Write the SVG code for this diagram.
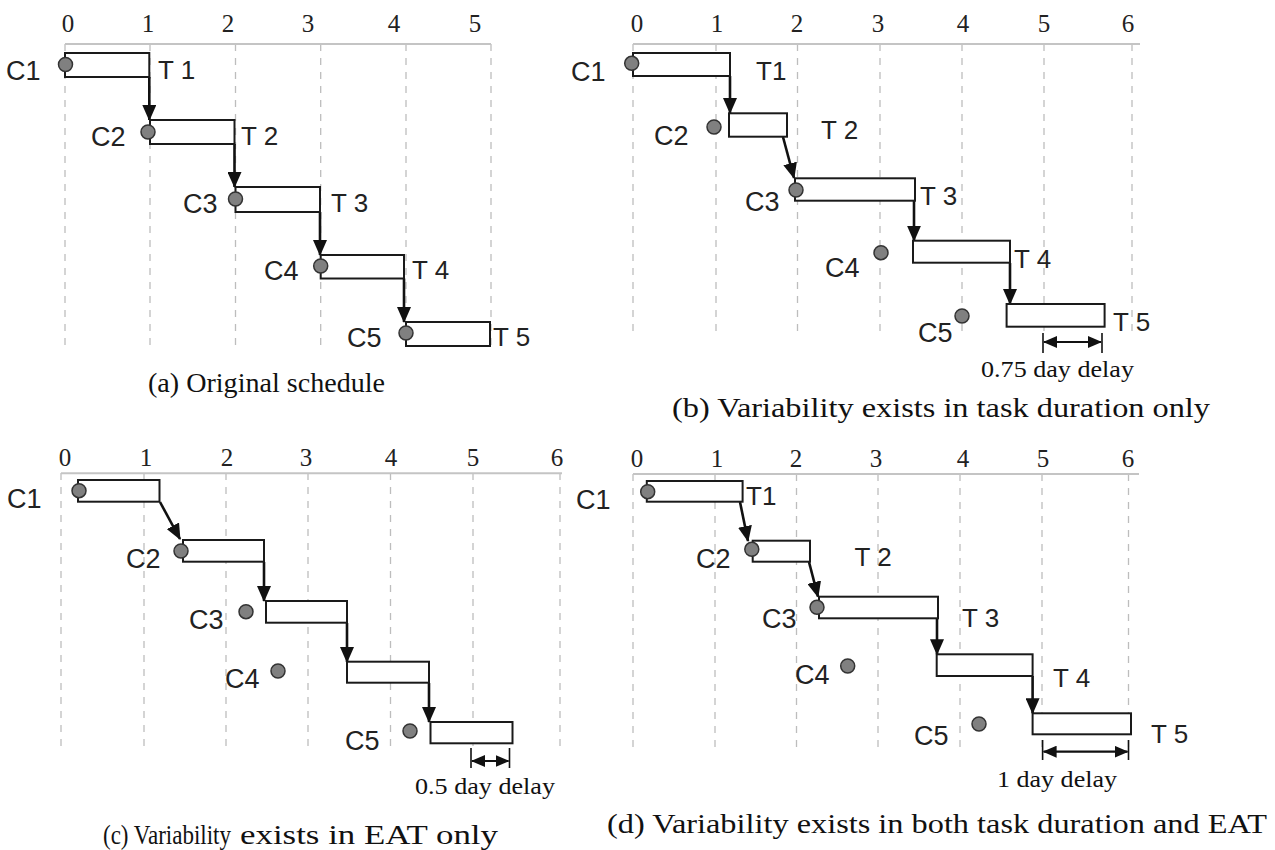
<svg xmlns="http://www.w3.org/2000/svg" width="1275" height="850" viewBox="0 0 1275 850">
<style>
.bg{fill:#fff}
.ax{stroke:#c4c4c4;stroke-width:2;fill:none}
.gr{stroke:#bdbdbd;stroke-width:1.3;stroke-dasharray:7,7;fill:none}
.num{font-family:"Liberation Serif",serif;font-size:25px;fill:#222;text-anchor:middle}
.bar{fill:#fff;stroke:#1a1a1a;stroke-width:2}
.pt{fill:#808080;stroke:#333;stroke-width:1.5}
.lb{font-family:"Liberation Sans",sans-serif;font-size:27px;fill:#222}
.tl{font-family:"Liberation Sans",sans-serif;font-size:26px;fill:#222}
.cap{font-family:"Liberation Serif",serif;font-size:27px;fill:#111}
.dl{font-family:"Liberation Serif",serif;font-size:24px;fill:#111}
.ar{stroke:#111;stroke-width:2.6;fill:none;marker-end:url(#ah)}
.dm{stroke:#111;stroke-width:2.2;fill:none;marker-start:url(#dh);marker-end:url(#dh)}
.tk{stroke:#111;stroke-width:1.6}
</style>
<defs>
<marker id="ah" viewBox="0 0 16 14" refX="15" refY="7" markerWidth="16" markerHeight="14" orient="auto" markerUnits="userSpaceOnUse"><path d="M0,0 L16,7 L0,14 z" fill="#111"/></marker>
<marker id="dh" viewBox="0 0 14 12" refX="13" refY="6" markerWidth="14" markerHeight="12" orient="auto-start-reverse" markerUnits="userSpaceOnUse"><path d="M0,0 L14,6 L0,12 z" fill="#111"/></marker>
</defs>
<rect class="bg" width="1275" height="850"/>

<!-- ===== Panel (a) ===== -->
<g id="axis-a">
<text class="num" x="68" y="32">0</text><text class="num" x="148" y="32">1</text><text class="num" x="228" y="32">2</text><text class="num" x="308" y="32">3</text><text class="num" x="394" y="32">4</text><text class="num" x="475" y="32">5</text>
<path class="gr" d="M65,44V347M150,44V347M235.5,44V347M320.7,44V347M406,44V347M491,44V347"/>
<line class="ax" x1="65" y1="44" x2="491" y2="44"/>
</g>
<g id="a-connectors">
<line class="ar" x1="149.3" y1="77" x2="149.3" y2="120"/>
<line class="ar" x1="234.5" y1="144" x2="234.5" y2="187"/>
<line class="ar" x1="320" y1="212" x2="320" y2="255"/>
<line class="ar" x1="404" y1="278.5" x2="404" y2="322"/>
</g>
<g id="a-T1"><rect class="bar" x="65" y="53" width="84.3" height="24"/><circle class="pt" cx="65.5" cy="64.5" r="7"/><text class="lb" x="6" y="80">C1</text><text class="tl" x="158" y="79">T 1</text></g>
<g id="a-T2"><rect class="bar" x="150" y="120" width="84.5" height="24"/><circle class="pt" cx="148" cy="132" r="7"/><text class="lb" x="91" y="146">C2</text><text class="tl" x="241" y="145">T 2</text></g>
<g id="a-T3"><rect class="bar" x="235.5" y="187" width="84.5" height="25"/><circle class="pt" cx="235.5" cy="199" r="7"/><text class="lb" x="183" y="213">C3</text><text class="tl" x="331" y="212">T 3</text></g>
<g id="a-T4"><rect class="bar" x="320.7" y="255" width="83.3" height="23.5"/><circle class="pt" cx="320.7" cy="266" r="7"/><text class="lb" x="264" y="280">C4</text><text class="tl" x="412" y="279">T 4</text></g>
<g id="a-T5"><rect class="bar" x="406" y="322" width="84" height="24"/><circle class="pt" cx="406" cy="333" r="7"/><text class="lb" x="347" y="347">C5</text><text class="tl" x="493" y="346">T 5</text></g>
<text class="cap" x="148" y="392" font-size="28" textLength="237" lengthAdjust="spacingAndGlyphs">(a) Original schedule</text>

<!-- ===== Panel (b) ===== -->
<g id="axis-b">
<text class="num" x="637" y="32">0</text><text class="num" x="717" y="32">1</text><text class="num" x="797" y="32">2</text><text class="num" x="878" y="32">3</text><text class="num" x="963" y="32">4</text><text class="num" x="1044" y="32">5</text><text class="num" x="1128" y="32">6</text>
<path class="gr" d="M633,44V337M716,44V337M797.5,44V337M880,44V337M962,44V337M1044,44V337M1132,44V337"/>
<line class="ax" x1="633" y1="44" x2="1140" y2="44"/>
</g>
<g id="b-connectors">
<line class="ar" x1="730" y1="76" x2="730" y2="113"/>
<line class="ar" x1="783" y1="137" x2="794" y2="178"/>
<line class="ar" x1="914" y1="201" x2="914" y2="240.7"/>
<line class="ar" x1="1010" y1="263" x2="1010" y2="304"/>
</g>
<g id="b-T1"><rect class="bar" x="633" y="53" width="97" height="23"/><circle class="pt" cx="631.7" cy="63.3" r="7"/><text class="lb" x="571" y="81">C1</text><text class="tl" x="756" y="80">T1</text></g>
<g id="b-T2"><rect class="bar" x="729" y="113.3" width="58" height="23.4"/><circle class="pt" cx="714" cy="127" r="7"/><text class="lb" x="654" y="145">C2</text><text class="tl" x="821" y="139">T 2</text></g>
<g id="b-T3"><rect class="bar" x="795" y="178.3" width="120" height="22.4"/><circle class="pt" cx="796" cy="190" r="7"/><text class="lb" x="745" y="211">C3</text><text class="tl" x="920" y="205">T 3</text></g>
<g id="b-T4"><rect class="bar" x="913" y="240.7" width="97" height="22"/><circle class="pt" cx="881" cy="252.7" r="7"/><text class="lb" x="825" y="277">C4</text><text class="tl" x="1014" y="268">T 4</text></g>
<g id="b-T5"><rect class="bar" x="1006.6" y="304" width="98" height="22.7"/><circle class="pt" cx="962" cy="316" r="7"/><text class="lb" x="918" y="342">C5</text><text class="tl" x="1113" y="331">T 5</text></g>
<g id="b-delay">
<line class="tk" x1="1043" y1="333" x2="1043" y2="353"/><line class="tk" x1="1102" y1="333" x2="1102" y2="353"/>
<line class="dm" x1="1044" y1="342" x2="1101" y2="342"/>
<text class="dl" x="981" y="377" textLength="153" lengthAdjust="spacingAndGlyphs">0.75 day delay</text>
</g>
<text class="cap" x="672" y="417" textLength="538" lengthAdjust="spacingAndGlyphs">(b) Variability exists in task duration only</text>

<!-- ===== Panel (c) ===== -->
<g id="axis-c">
<text class="num" x="65" y="466">0</text><text class="num" x="146" y="466">1</text><text class="num" x="227" y="466">2</text><text class="num" x="306" y="466">3</text><text class="num" x="391" y="466">4</text><text class="num" x="473" y="466">5</text><text class="num" x="557" y="466">6</text>
<path class="gr" d="M61,473V750M144,473V750M226,473V750M308,473V750M390.5,473V750M473,473V750M560,473V750"/>
<line class="ax" x1="61" y1="473.3" x2="562" y2="473.3"/>
</g>
<g id="c-connectors">
<line class="ar" x1="160" y1="502" x2="180" y2="539"/>
<line class="ar" x1="264" y1="562" x2="264" y2="601"/>
<line class="ar" x1="347" y1="623" x2="347" y2="662"/>
<line class="ar" x1="429" y1="683" x2="429" y2="722"/>
</g>
<g id="c-T1"><rect class="bar" x="78" y="480" width="81.5" height="21.7"/><circle class="pt" cx="79" cy="490.7" r="7"/><text class="lb" x="7" y="508">C1</text></g>
<g id="c-T2"><rect class="bar" x="183" y="540" width="81" height="21.7"/><circle class="pt" cx="181" cy="551" r="7"/><text class="lb" x="126" y="568">C2</text></g>
<g id="c-T3"><rect class="bar" x="266" y="601" width="81" height="21.7"/><circle class="pt" cx="246" cy="611.7" r="7"/><text class="lb" x="189" y="629">C3</text></g>
<g id="c-T4"><rect class="bar" x="347" y="661.7" width="82" height="21"/><circle class="pt" cx="278" cy="671" r="7"/><text class="lb" x="225" y="688">C4</text></g>
<g id="c-T5"><rect class="bar" x="430.5" y="722" width="82" height="21.3"/><circle class="pt" cx="410" cy="731" r="7"/><text class="lb" x="345" y="750">C5</text></g>
<g id="c-delay">
<line class="tk" x1="471" y1="748" x2="471" y2="768"/><line class="tk" x1="509.5" y1="748" x2="509.5" y2="768"/>
<line class="dm" x1="472" y1="761" x2="508.5" y2="761"/>
<text class="dl" x="415" y="794" textLength="140" lengthAdjust="spacingAndGlyphs">0.5 day delay</text>
</g>
<text class="cap" x="103" y="844" font-size="22" textLength="128" lengthAdjust="spacingAndGlyphs">(c) Variability</text>
<text class="cap" x="240" y="844" font-size="28" textLength="258" lengthAdjust="spacingAndGlyphs">exists in EAT only</text>

<!-- ===== Panel (d) ===== -->
<g id="axis-d">
<text class="num" x="637" y="467">0</text><text class="num" x="717" y="467">1</text><text class="num" x="796" y="467">2</text><text class="num" x="876" y="467">3</text><text class="num" x="963" y="467">4</text><text class="num" x="1043" y="467">5</text><text class="num" x="1128" y="467">6</text>
<path class="gr" d="M633,474V747M715,474V747M796.5,474V747M878,474V747M960,474V747M1042,474V747M1128.5,474V747"/>
<line class="ax" x1="633" y1="474" x2="1139" y2="474"/>
</g>
<g id="d-connectors">
<line class="ar" x1="740" y1="502" x2="748" y2="541"/>
<line class="ar" x1="809" y1="562" x2="818" y2="596.7"/>
<line class="ar" x1="937" y1="618" x2="937" y2="654.3"/>
<line class="ar" x1="1032.6" y1="676" x2="1032.6" y2="713.3"/>
</g>
<g id="d-T1"><rect class="bar" x="646.8" y="481" width="95.8" height="20.7"/><circle class="pt" cx="647.7" cy="491.7" r="7"/><text class="lb" x="576" y="509">C1</text><text class="tl" x="746" y="505">T1</text></g>
<g id="d-T2"><rect class="bar" x="752.7" y="540.7" width="57.3" height="21"/><circle class="pt" cx="751.8" cy="549.3" r="7"/><text class="lb" x="696" y="568">C2</text><text class="tl" x="854.5" y="566">T 2</text></g>
<g id="d-T3"><rect class="bar" x="819" y="596.7" width="119" height="21.6"/><circle class="pt" cx="817" cy="607.3" r="7"/><text class="lb" x="762" y="628">C3</text><text class="tl" x="962" y="627">T 3</text></g>
<g id="d-T4"><rect class="bar" x="936.7" y="654.3" width="95.9" height="21.7"/><circle class="pt" cx="847.7" cy="666" r="7"/><text class="lb" x="795" y="684">C4</text><text class="tl" x="1053" y="687">T 4</text></g>
<g id="d-T5"><rect class="bar" x="1032.6" y="713.3" width="98.4" height="21"/><circle class="pt" cx="979" cy="724" r="7"/><text class="lb" x="914" y="745">C5</text><text class="tl" x="1151" y="743">T 5</text></g>
<g id="d-delay">
<line class="tk" x1="1042.6" y1="740" x2="1042.6" y2="760"/><line class="tk" x1="1128.5" y1="740" x2="1128.5" y2="760"/>
<line class="dm" x1="1043.6" y1="751.7" x2="1127.5" y2="751.7"/>
<text class="dl" x="997" y="787" textLength="120" lengthAdjust="spacingAndGlyphs">1 day delay</text>
</g>
<text class="cap" x="607" y="833" textLength="660" lengthAdjust="spacingAndGlyphs">(d) Variability exists in both task duration and EAT</text>
</svg>
